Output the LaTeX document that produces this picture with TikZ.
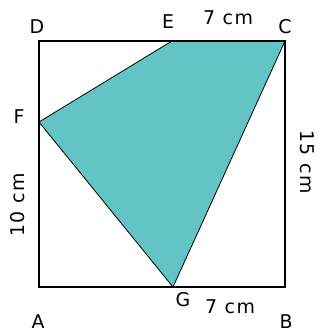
\documentclass[tikz,border=0pt]{standalone}
\usepackage{fontspec}
\setmainfont{DejaVu Sans}
\newfontfamily\lblfont[LetterSpace=8]{DejaVu Sans}
\definecolor{teal1}{RGB}{98,196,196}
\begin{document}
\begin{tikzpicture}[x=1bp,y=-1bp,
  lbl/.style={font=\lblfont\fontsize{19}{22}\selectfont, inner sep=0pt},
  edge/.style={draw=black, line width=1.1bp}]
\useasboundingbox (0,0) rectangle (320,334);
\coordinate (A) at (39,287);
\coordinate (B) at (285,287);
\coordinate (C) at (285,41);
\coordinate (D) at (39,41);
\coordinate (E) at (172,41);
\coordinate (F) at (39,122);
\coordinate (G) at (173,287);
\fill[teal1, draw=black, line width=0.8bp, line join=round] (E) -- (C) -- (G) -- (F) -- cycle;
\draw[edge] (A) -- (B) -- (C) -- (D) -- cycle;
\node[lbl] (lD) at (37,27) {D};
\node[lbl] (lE) at (168,22) {E};
\node[lbl] (lC) at (285,27) {C};
\node[lbl] (lF) at (19,117) {F};
\node[lbl] (lG) at (183,300) {G};
\node[lbl] (lA) at (38,322) {A};
\node[lbl] (lB) at (286,322) {B};
\node[lbl] (t1) at (228,18) {7 cm};
\node[lbl] (t2) at (230,307) {7 cm};
\node[lbl, rotate=90] (t3) at (18,205) {10 cm};
\node[lbl, rotate=-90] (t4) at (307,162) {15 cm};
\end{tikzpicture}
\end{document}
